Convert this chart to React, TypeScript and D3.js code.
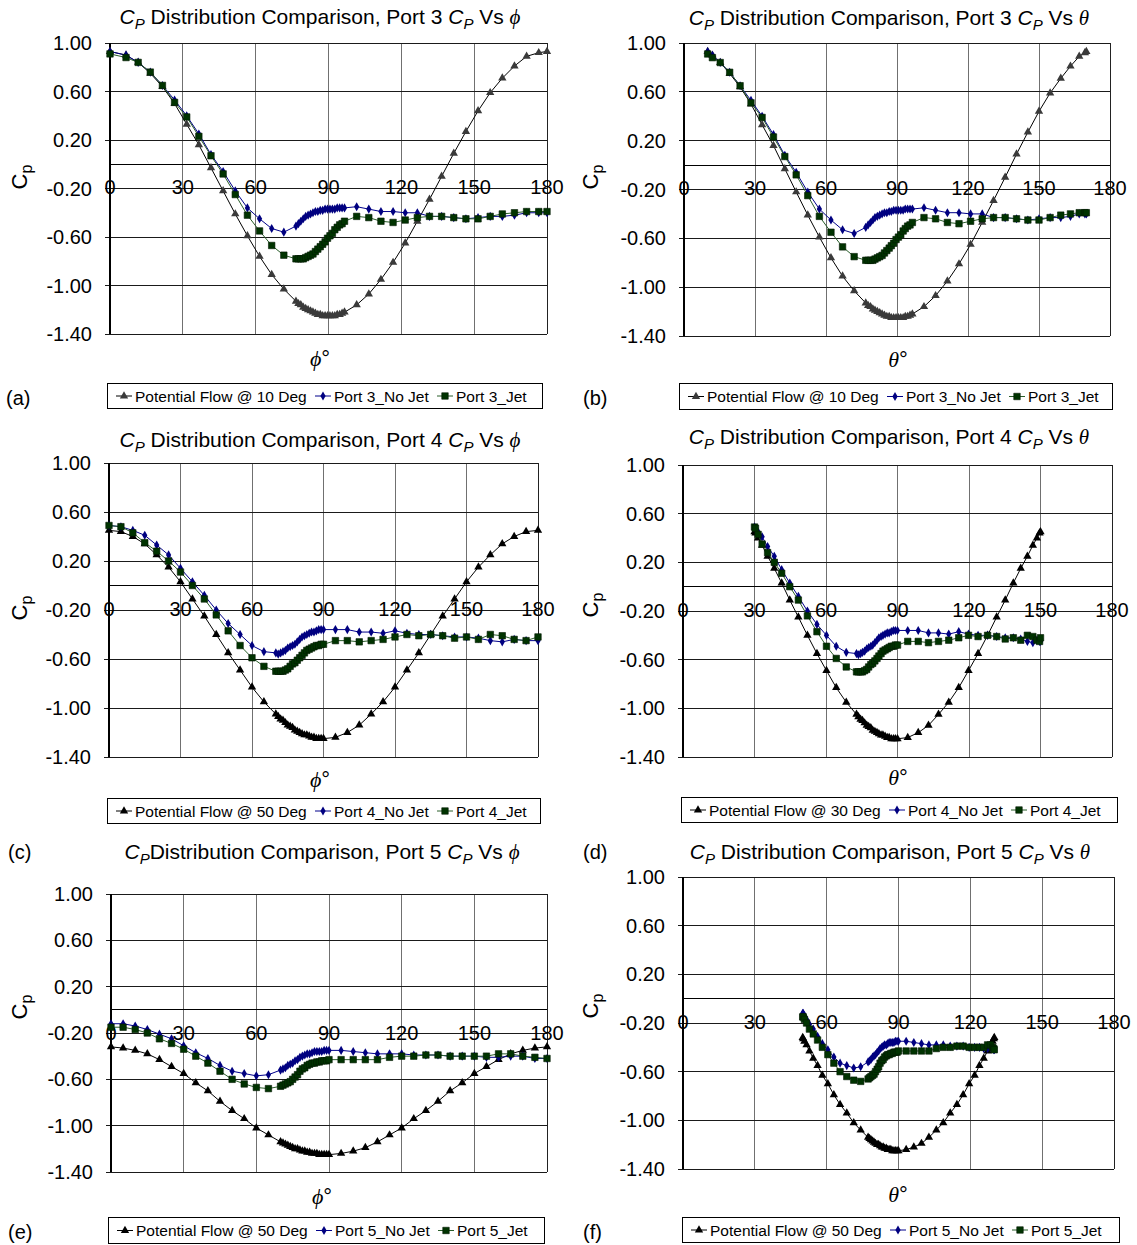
import React, { useEffect, useRef } from "react";
import * as d3 from "d3";

// Port 3 (panels a, b): phi sampling, matching theta, and Cp series
const phi3 = [0, 6.6, 11.6, 16.6, 21.6, 26.6, 31.6, 36.6, 41.6, 46.6, 51.6, 56.6, 61.6, 66.6, 71.6,
  76.6, 77.6, 78.6, 79.6, 80.6, 81.6, 82.6, 83.6, 84.6, 85.6, 86.6, 87.6, 88.6, 89.6, 90.6, 91.6, 92.6, 93.6, 94.6, 95.6, 96.6,
  101.6, 106.6, 111.6, 116.6, 121.6, 126.6, 131.6, 136.6, 141.6, 146.6, 151.6, 156.6, 161.6, 166.6, 171.6, 176.6, 180];
const theta3 = [10.0, 12.0, 15.3, 19.3, 23.7, 28.3, 33.0, 37.8, 42.6, 47.4, 52.3, 57.2, 62.1, 67.0, 71.9,
  76.8, 77.8, 78.8, 79.8, 80.7, 81.7, 82.7, 83.7, 84.7, 85.7, 86.7, 87.6, 88.6, 89.6, 90.6, 91.6, 92.6, 93.5, 94.5, 95.5, 96.5,
  101.4, 106.3, 111.3, 116.2, 121.1, 126.0, 130.8, 135.7, 140.5, 145.3, 150.0, 154.7, 159.2, 163.3, 167.0, 169.4, 170.0];
const pf3 = [0.93, 0.90, 0.84, 0.75, 0.64, 0.50, 0.33, 0.16, -0.03, -0.22, -0.41, -0.59, -0.76, -0.91, -1.03,
  -1.13, -1.15, -1.16, -1.18, -1.19, -1.20, -1.21, -1.22, -1.23, -1.24, -1.24, -1.25, -1.25, -1.25, -1.25, -1.25, -1.25, -1.24, -1.24, -1.23, -1.22,
  -1.16, -1.07, -0.95, -0.81, -0.65, -0.47, -0.29, -0.10, 0.09, 0.27, 0.44, 0.59, 0.71, 0.81, 0.89, 0.92, 0.93];
const noJet3 = [0.93, 0.90, 0.84, 0.76, 0.65, 0.53, 0.40, 0.25, 0.08, -0.06, -0.22, -0.36, -0.45, -0.53, -0.56,
  -0.51, -0.49, -0.47, -0.45, -0.43, -0.42, -0.41, -0.40, -0.39, -0.39, -0.38, -0.38, -0.37, -0.37, -0.37, -0.37, -0.37, -0.36, -0.36, -0.36, -0.36,
  -0.35, -0.37, -0.39, -0.39, -0.40, -0.40, -0.43, -0.43, -0.44, -0.45, -0.44, -0.43, -0.43, -0.42, -0.40, -0.40, -0.40];
const jet3 = [0.91, 0.88, 0.84, 0.76, 0.65, 0.51, 0.39, 0.23, 0.07, -0.08, -0.25, -0.42, -0.55, -0.67, -0.75,
  -0.78, -0.78, -0.78, -0.78, -0.77, -0.76, -0.75, -0.74, -0.72, -0.70, -0.68, -0.66, -0.64, -0.61, -0.59, -0.57, -0.54, -0.52, -0.50, -0.49, -0.47,
  -0.43, -0.44, -0.47, -0.48, -0.46, -0.44, -0.43, -0.43, -0.44, -0.45, -0.45, -0.43, -0.41, -0.40, -0.39, -0.39, -0.39];

// Ports 4 and 5 share the phi sampling
const phi45 = [0, 5, 10, 15, 20, 25, 30, 35, 40, 45, 50, 55, 60, 65,
  70, 71, 72, 73, 74, 75, 76, 77, 78, 79, 80, 81, 82, 83, 84, 85, 86, 87, 88, 89, 90,
  95, 100, 105, 110, 115, 120, 125, 130, 135, 140, 145, 150, 155, 160, 165, 170, 175, 180];

// Port 4 (panels c, d)
const theta4 = [30.0, 30.4, 31.5, 33.2, 35.5, 38.3, 41.4, 44.8, 48.4, 52.2, 56.2, 60.2, 64.3, 68.5,
  72.8, 73.6, 74.5, 75.3, 76.2, 77.1, 77.9, 78.8, 79.6, 80.5, 81.4, 82.2, 83.1, 83.9, 84.8, 85.7, 86.5, 87.4, 88.3, 89.1, 90.0,
  94.3, 98.7, 103.0, 107.2, 111.5, 115.7, 119.8, 123.8, 127.8, 131.6, 135.2, 138.6, 141.7, 144.5, 146.8, 148.5, 149.6, 150.0];
const pf4 = [0.45, 0.44, 0.40, 0.34, 0.25, 0.15, 0.03, -0.11, -0.25, -0.40, -0.55, -0.69, -0.83, -0.95,
  -1.05, -1.07, -1.09, -1.10, -1.12, -1.14, -1.15, -1.16, -1.18, -1.19, -1.20, -1.21, -1.22, -1.22, -1.23, -1.24, -1.24, -1.25, -1.25, -1.25, -1.25,
  -1.24, -1.20, -1.14, -1.05, -0.95, -0.83, -0.69, -0.55, -0.40, -0.25, -0.11, 0.03, 0.15, 0.25, 0.34, 0.40, 0.44, 0.45];
const noJet4 = [0.49, 0.48, 0.45, 0.41, 0.33, 0.25, 0.14, 0.03, -0.08, -0.20, -0.31, -0.40, -0.49, -0.54,
  -0.55, -0.56, -0.55, -0.54, -0.53, -0.51, -0.50, -0.49, -0.48, -0.46, -0.44, -0.42, -0.41, -0.40, -0.39, -0.38, -0.38, -0.37, -0.36, -0.36, -0.36,
  -0.36, -0.36, -0.38, -0.38, -0.39, -0.37, -0.39, -0.40, -0.40, -0.41, -0.42, -0.42, -0.43, -0.45, -0.46, -0.44, -0.45, -0.45];
const jet4 = [0.49, 0.48, 0.43, 0.35, 0.28, 0.20, 0.11, 0.00, -0.11, -0.24, -0.37, -0.49, -0.59, -0.66,
  -0.70, -0.70, -0.70, -0.70, -0.69, -0.68, -0.66, -0.64, -0.63, -0.61, -0.59, -0.57, -0.55, -0.53, -0.52, -0.51, -0.50, -0.49, -0.49, -0.48, -0.48,
  -0.45, -0.45, -0.46, -0.45, -0.44, -0.42, -0.40, -0.41, -0.40, -0.41, -0.43, -0.42, -0.44, -0.40, -0.41, -0.44, -0.45, -0.42];

// Port 5 (panels e, f)
const theta5 = [50.0, 50.2, 50.7, 51.6, 52.8, 54.4, 56.2, 58.2, 60.5, 63.0, 65.6, 68.4, 71.3, 74.2,
  77.3, 77.9, 78.5, 79.2, 79.8, 80.4, 81.1, 81.7, 82.3, 83.0, 83.6, 84.2, 84.9, 85.5, 86.1, 86.8, 87.4, 88.1, 88.7, 89.4, 90.0,
  93.2, 96.4, 99.6, 102.7, 105.8, 108.7, 111.6, 114.4, 117.0, 119.5, 121.8, 123.8, 125.6, 127.2, 128.4, 129.3, 129.8, 130.0];
const pf5 = [-0.32, -0.33, -0.35, -0.38, -0.43, -0.49, -0.55, -0.63, -0.70, -0.79, -0.87, -0.94, -1.02, -1.08,
  -1.14, -1.15, -1.16, -1.17, -1.18, -1.19, -1.20, -1.20, -1.21, -1.22, -1.22, -1.23, -1.23, -1.24, -1.24, -1.24, -1.25, -1.25, -1.25, -1.25, -1.25,
  -1.24, -1.22, -1.19, -1.14, -1.08, -1.02, -0.94, -0.87, -0.79, -0.70, -0.63, -0.55, -0.49, -0.43, -0.38, -0.35, -0.33, -0.32];
const noJet5 = [-0.12, -0.12, -0.14, -0.17, -0.21, -0.25, -0.31, -0.37, -0.42, -0.48, -0.53, -0.55, -0.57, -0.56,
  -0.52, -0.51, -0.50, -0.48, -0.47, -0.46, -0.44, -0.43, -0.41, -0.40, -0.39, -0.38, -0.38, -0.37, -0.36, -0.36, -0.36, -0.36, -0.35, -0.35, -0.35,
  -0.35, -0.36, -0.37, -0.38, -0.38, -0.38, -0.39, -0.39, -0.39, -0.40, -0.40, -0.40, -0.41, -0.41, -0.40, -0.40, -0.42, -0.42];
const jet5 = [-0.15, -0.15, -0.17, -0.20, -0.25, -0.29, -0.34, -0.40, -0.46, -0.53, -0.60, -0.64, -0.67, -0.68,
  -0.66, -0.65, -0.64, -0.63, -0.62, -0.60, -0.58, -0.56, -0.53, -0.51, -0.50, -0.48, -0.47, -0.46, -0.46, -0.45, -0.45, -0.44, -0.44, -0.44, -0.43,
  -0.43, -0.43, -0.43, -0.43, -0.41, -0.40, -0.40, -0.39, -0.39, -0.40, -0.40, -0.40, -0.40, -0.38, -0.38, -0.40, -0.41, -0.42];

const xTicks = [0, 30, 60, 90, 120, 150, 180];
const yTicks = [1.0, 0.6, 0.2, -0.2, -0.6, -1.0, -1.4];

const SANS = "'Liberation Sans', Arial, sans-serif";
const SERIF = "'Liberation Serif', 'DejaVu Serif', serif";
const PHI = "\u03D5";
const THETA = "\u03B8";

const panels = [
  { tag: "(a)", port: 3, vs: PHI, deg: 10, xs: phi3, pf: pf3, noJet: noJet3, jet: jet3, pfColor: "#3a3a3a", gap: true,
    plot: { l: 110, r: 547, t: 43, b: 334 }, title: { x: 320, y: 24 }, tagPos: { x: 6, y: 405 },
    legend: { x: 107, y: 383, w: 435, h: 25 }, xLab: { x: 320, y: 366 }, yLab: { x: 27, y: 177 } },
  { tag: "(b)", port: 3, vs: THETA, deg: 10, xs: theta3, pf: pf3, noJet: noJet3, jet: jet3, pfColor: "#3a3a3a", gap: true,
    plot: { l: 684, r: 1110, t: 43, b: 336 }, title: { x: 889, y: 25 }, tagPos: { x: 583, y: 405 },
    legend: { x: 679, y: 383, w: 433, h: 26 }, xLab: { x: 898, y: 367 }, yLab: { x: 598, y: 177 } },
  { tag: "(c)", port: 4, vs: PHI, deg: 50, xs: phi45, pf: pf4, noJet: noJet4, jet: jet4, pfColor: "#000", gap: true,
    plot: { l: 109, r: 538, t: 463, b: 757 }, title: { x: 320, y: 447 }, tagPos: { x: 8, y: 859 },
    legend: { x: 107, y: 798, w: 433, h: 25 }, xLab: { x: 320, y: 787 }, yLab: { x: 27, y: 608 } },
  { tag: "(d)", port: 4, vs: THETA, deg: 30, xs: theta4, pf: pf4, noJet: noJet4, jet: jet4, pfColor: "#000", gap: true,
    plot: { l: 683, r: 1112, t: 465, b: 757 }, title: { x: 889, y: 444 }, tagPos: { x: 583, y: 859 },
    legend: { x: 681, y: 797, w: 436, h: 25 }, xLab: { x: 898, y: 785 }, yLab: { x: 598, y: 605 } },
  { tag: "(e)", port: 5, vs: PHI, deg: 50, xs: phi45, pf: pf5, noJet: noJet5, jet: jet5, pfColor: "#000", gap: false,
    plot: { l: 111, r: 547, t: 894, b: 1172 }, title: { x: 322, y: 859 }, tagPos: { x: 8, y: 1239 },
    legend: { x: 108, y: 1217, w: 436, h: 26 }, xLab: { x: 322, y: 1204 }, yLab: { x: 27, y: 1007 } },
  { tag: "(f)", port: 5, vs: THETA, deg: 50, xs: theta5, pf: pf5, noJet: noJet5, jet: jet5, pfColor: "#000", gap: true,
    plot: { l: 683, r: 1114, t: 877, b: 1169 }, title: { x: 890, y: 859 }, tagPos: { x: 583, y: 1239 },
    legend: { x: 682, y: 1217, w: 437, h: 25 }, xLab: { x: 898, y: 1202 }, yLab: { x: 598, y: 1006 } },
];

const styles = {
  pf: { line: "#000", symbol: d3.symbolTriangle, size: 30, stroke: "none" },
  noJet: { line: "#00008b", fill: "#000080", symbol: d3.symbolDiamond, size: 24, stroke: "none" },
  jet: { line: "#2a5e2a", fill: "#003300", symbol: d3.symbolSquare, size: 42, stroke: "#001a00" },
};

function drawPanel(svg: any, p: any) {
  const g = svg.append("g");
  const x = d3.scaleLinear().domain([0, 180]).range([p.plot.l, p.plot.r]);
  const y = d3.scaleLinear().domain([-1.4, 1.0]).range([p.plot.b, p.plot.t]);

  // vertical gridlines
  g.append("g").selectAll("line").data(xTicks.slice(1)).join("line")
    .attr("x1", (d: number) => x(d)).attr("x2", (d: number) => x(d))
    .attr("y1", p.plot.t).attr("y2", p.plot.b)
    .attr("stroke", (d: number) => (d === 180 ? "#222" : "#707070")).attr("stroke-width", 1)
    .attr("shape-rendering", "crispEdges");

  // horizontal gridlines, with outside ticks
  g.append("g").selectAll("line").data(yTicks).join("line")
    .attr("x1", p.plot.l - 5).attr("x2", p.plot.r)
    .attr("y1", (d: number) => y(d)).attr("y2", (d: number) => y(d))
    .attr("stroke", "#1a1a1a").attr("stroke-width", 1).attr("shape-rendering", "crispEdges");

  // x axis at Cp = 0
  g.append("line").attr("x1", p.plot.l).attr("x2", p.plot.r).attr("y1", y(0)).attr("y2", y(0))
    .attr("stroke", "#000").attr("stroke-width", 1).attr("shape-rendering", "crispEdges");

  // left axis
  g.append("line").attr("x1", p.plot.l).attr("x2", p.plot.l).attr("y1", p.plot.t).attr("y2", p.plot.b)
    .attr("stroke", "#000").attr("stroke-width", 2);

  // y tick labels
  g.append("g").selectAll("text").data(yTicks).join("text")
    .attr("x", p.plot.l - 18).attr("y", (d: number) => y(d) + 7)
    .attr("text-anchor", "end").attr("font-size", 20).attr("font-family", SANS)
    .text((d: number) => d.toFixed(2));

  // x tick labels under the zero line
  g.append("g").selectAll("text").data(xTicks).join("text")
    .attr("x", (d: number) => x(d)).attr("y", y(0) + 30)
    .attr("text-anchor", "middle").attr("font-size", 20).attr("font-family", SANS)
    .text((d: number) => d);

  // series
  const series = [
    { key: "pf", vals: p.pf, fill: p.pfColor },
    { key: "noJet", vals: p.noJet, fill: styles.noJet.fill },
    { key: "jet", vals: p.jet, fill: styles.jet.fill },
  ];
  series.forEach((s) => {
    const st: any = (styles as any)[s.key];
    const pts = p.xs.map((xv: number, i: number) => [xv, s.vals[i]]);
    const line = d3.line().x((d: any) => x(d[0])).y((d: any) => y(d[1]));
    g.append("path").attr("d", line(pts)).attr("fill", "none").attr("stroke", st.line).attr("stroke-width", 1);
    const sym = d3.symbol().type(st.symbol).size(st.size);
    g.append("g").selectAll("path").data(pts).join("path")
      .attr("transform", (d: any) => `translate(${x(d[0])},${y(d[1])})`)
      .attr("d", sym()).attr("fill", s.fill)
      .attr("stroke", st.stroke).attr("stroke-width", 0.6);
  });

  // title
  const t = g.append("text").attr("x", p.title.x).attr("y", p.title.y).attr("text-anchor", "middle")
    .attr("font-size", 21).attr("font-family", SANS).style("white-space", "pre");
  t.append("tspan").attr("font-style", "italic").text("C");
  t.append("tspan").attr("font-style", "italic").attr("font-size", 15).attr("dy", 5).text("P");
  t.append("tspan").attr("dy", -5).text(`${p.gap ? " " : ""}Distribution Comparison, Port ${p.port} `);
  t.append("tspan").attr("font-style", "italic").text("C");
  t.append("tspan").attr("font-style", "italic").attr("font-size", 15).attr("dy", 5).text("P");
  t.append("tspan").attr("dy", -5).text(" Vs ");
  t.append("tspan").attr("font-family", SERIF).attr("font-style", "italic").attr("font-size", 21).text(p.vs);

  // y axis title
  const yl = g.append("text").attr("transform", `translate(${p.yLab.x},${p.yLab.y}) rotate(-90)`)
    .attr("text-anchor", "middle").attr("font-size", 22).attr("font-family", SANS);
  yl.append("tspan").text("C");
  yl.append("tspan").attr("font-size", 16).attr("dy", 5).text("p");

  // x axis title
  const xl = g.append("text").attr("x", p.xLab.x).attr("y", p.xLab.y).attr("text-anchor", "middle")
    .attr("font-size", 22);
  xl.append("tspan").attr("font-family", SERIF).attr("font-style", "italic").text(p.vs);
  xl.append("tspan").attr("font-family", SANS).text("°");

  // panel tag
  g.append("text").attr("x", p.tagPos.x).attr("y", p.tagPos.y).attr("font-size", 20).attr("font-family", SANS)
    .text(p.tag);

  // legend
  const L = p.legend;
  const lg = g.append("g");
  lg.append("rect").attr("x", L.x + 0.5).attr("y", L.y + 0.5).attr("width", L.w).attr("height", L.h)
    .attr("fill", "#fff").attr("stroke", "#000").attr("stroke-width", 1);
  const items = [
    { key: "pf", label: `Potential Flow @ ${p.deg} Deg`, fill: p.pfColor, dx: 9 },
    { key: "noJet", label: `Port ${p.port}_No Jet`, fill: styles.noJet.fill, dx: 208 },
    { key: "jet", label: `Port ${p.port}_Jet`, fill: styles.jet.fill, dx: 330 },
  ];
  const cy = L.y + L.h / 2 + 0.5;
  items.forEach((it) => {
    const st: any = (styles as any)[it.key];
    const sx = L.x + it.dx;
    lg.append("line").attr("x1", sx).attr("x2", sx + 16).attr("y1", cy).attr("y2", cy)
      .attr("stroke", st.line).attr("stroke-width", 1);
    lg.append("path").attr("transform", `translate(${sx + 8},${cy})`)
      .attr("d", d3.symbol().type(st.symbol).size(st.size)()).attr("fill", it.fill)
      .attr("stroke", st.stroke).attr("stroke-width", 0.6);
    lg.append("text").attr("x", sx + 19).attr("y", cy + 5.5).attr("font-size", 15.5).attr("font-family", SANS)
      .text(it.label);
  });
}

export default function App() {
  const svgRef = useRef<SVGSVGElement>(null);

  useEffect(() => {
    const svg = d3.select(svgRef.current);
    svg.selectAll("*").remove();
    panels.forEach((p) => drawPanel(svg, p));
  }, []);

  return (
    <svg
      ref={svgRef}
      width={1137}
      height={1245}
      style={{ position: "absolute", left: 0, top: 0, background: "#fff" }}
    />
  );
}
